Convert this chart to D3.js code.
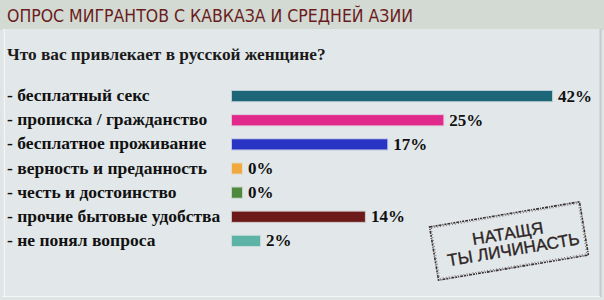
<!DOCTYPE html>
<html>
<head>
<meta charset="utf-8">
<script src="https://cdn.jsdelivr.net/npm/d3@7"></script>
<style>
  html, body { margin: 0; padding: 0; background: #dfe5e5; }
  svg { display: block; }
</style>
</head>
<body>
<div id="chart"></div>
<script>
const title = "ОПРОС МИГРАНТОВ С КАВКАЗА И СРЕДНЕЙ АЗИИ";
const question = "Что вас привлекает в русской женщине?";
const answers = [
    "- бесплатный секс",
    "- прописка / гражданство",
    "- бесплатное проживание",
    "- верность и преданность",
    "- честь и достоинство",
    "- прочие бытовые удобства",
    "- не понял вопроса"
];
const percents = [42, 25, 17, 0, 0, 14, 2];
const barColors = ["#1d6678", "#e0298a", "#2a34c4", "#efa93f", "#4e893d", "#6c1a1a", "#5db3a6"];
const stampLines = ["НАТАЩЯ", "ТЫ ЛИЧИНАСТЬ"];

const width = 604;
const height = 300;

const svg = d3.select('#chart')
    .append('svg')
    .attr('width', width)
    .attr('height', height);

// header band and panel
svg.append('rect')
    .attr('x', 0).attr('y', 0)
    .attr('width', width).attr('height', 30)
    .attr('fill', '#d2dad3');

svg.append('rect')
    .attr('x', 2).attr('y', 29)
    .attr('width', 598).attr('height', 267)
    .attr('fill', '#e2e8ea');

svg.append('line')
    .attr('x1', 600.5).attr('x2', 600.5)
    .attr('y1', 29).attr('y2', 297)
    .attr('stroke', '#c5cbcb').attr('stroke-width', 2);
svg.append('line')
    .attr('x1', 4.5).attr('x2', 4.5)
    .attr('y1', 29).attr('y2', 296)
    .attr('stroke', '#f2f6f6').attr('stroke-width', 1);
svg.append('line')
    .attr('x1', 2).attr('x2', 600)
    .attr('y1', 296.5).attr('y2', 296.5)
    .attr('stroke', '#f2f6f6').attr('stroke-width', 1);

svg.append('text')
    .attr('x', 7)
    .attr('y', 22)
    .attr('fill', '#6a1c1c')
    .style('font-family', '"DejaVu Sans Condensed", "DejaVu Sans", sans-serif')
    .style('font-stretch', 'condensed')
    .style('font-size', '17.5px')
    .text(title);

svg.append('text')
    .attr('x', 7)
    .attr('y', 60)
    .attr('fill', '#1a1a1a')
    .style('font-family', '"Liberation Serif", serif')
    .style('font-weight', 'bold')
    .style('font-size', '17.3px')
    .text(question);

const yScale = d3.scaleBand()
    .domain(answers)
    .range([84, 253])
    .paddingInner(0.58)
    .paddingOuter(0.29);

// bar lengths in the picture grow a bit slower than the percentages
const xScale = d3.scalePow()
    .exponent(0.8)
    .domain([0, d3.max(percents)])
    .range([0, 320]);

const barLeft = 232;
const minBar = 10;
const rows = answers.map((a, i) => ({ label: a, value: percents[i], color: barColors[i] }));
const barWidth = d => Math.max(minBar, xScale(d.value));

svg.selectAll('.label')
    .data(rows)
    .enter()
    .append('text')
    .attr('class', 'label')
    .attr('x', 7)
    .attr('y', d => yScale(d.label) + yScale.bandwidth() / 2 + 5)
    .attr('fill', '#111')
    .style('font-family', '"Liberation Serif", serif')
    .style('font-weight', 'bold')
    .style('font-size', '17.5px')
    .text(d => d.label);

svg.selectAll('.bar')
    .data(rows)
    .enter()
    .append('rect')
    .attr('class', 'bar')
    .attr('x', barLeft)
    .attr('y', d => yScale(d.label))
    .attr('width', barWidth)
    .attr('height', yScale.bandwidth())
    .attr('fill', d => d.color)
    .attr('stroke', d => d.color)
    .attr('stroke-opacity', 0.2)
    .attr('stroke-width', 2);

svg.selectAll('.value')
    .data(rows)
    .enter()
    .append('text')
    .attr('class', 'value')
    .attr('x', d => barLeft + barWidth(d) + 6)
    .attr('y', d => yScale(d.label) + yScale.bandwidth() / 2 + 5.5)
    .attr('fill', '#111')
    .style('font-family', '"Liberation Serif", serif')
    .style('font-weight', 'bold')
    .style('font-size', '17px')
    .text(d => d.value + '%');

// stamp
const stamp = svg.append('g')
    .attr('transform', 'translate(509,241) rotate(-9.5)');

stamp.append('rect')
    .attr('x', -76).attr('y', -27)
    .attr('width', 152).attr('height', 54)
    .attr('fill', 'none')
    .attr('stroke', '#3a3030')
    .attr('stroke-width', 1.6)
    .attr('stroke-dasharray', '3 1 1 1 2 1');

stamp.append('rect')
    .attr('x', -74.5).attr('y', -25.5)
    .attr('width', 149).attr('height', 51)
    .attr('fill', 'none')
    .attr('stroke', '#3a3030')
    .attr('stroke-width', 0.6)
    .attr('stroke-dasharray', '1 2');

stamp.selectAll('.stamp-line')
    .data(stampLines)
    .enter()
    .append('text')
    .attr('class', 'stamp-line')
    .attr('x', (d, i) => i * 3)
    .attr('y', (d, i) => -2 + i * 17)
    .attr('text-anchor', 'middle')
    .attr('fill', '#2e2525')
    .attr('stroke', '#2e2525')
    .attr('stroke-width', 0.35)
    .style('font-family', '"Liberation Sans", sans-serif')
    .style('font-size', '17px')
    .text(d => d);
</script>
</body>
</html>
